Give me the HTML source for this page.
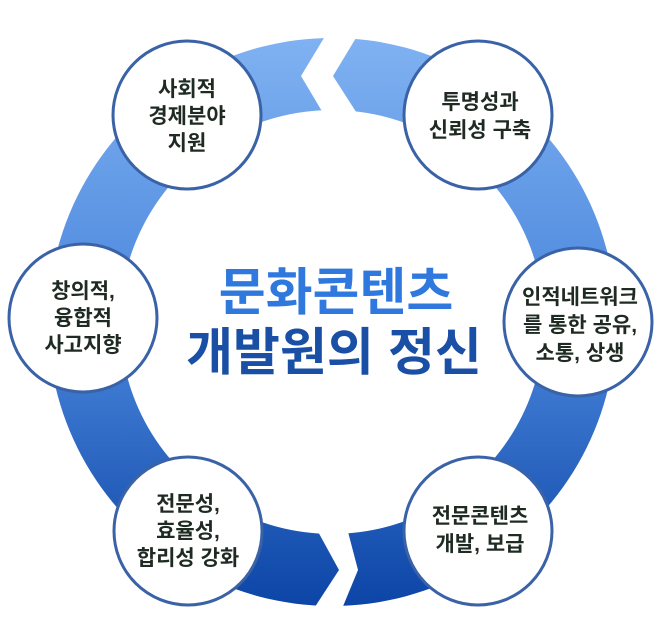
<!DOCTYPE html>
<html><head><meta charset="utf-8"><style>
html,body{margin:0;padding:0;background:#fff;width:660px;height:640px;overflow:hidden}
svg{display:block}
.n{font-family:"Liberation Sans","Noto Sans CJK KR",sans-serif;font-weight:bold;font-size:21px;fill:#1e2a22;text-anchor:middle}
.t{font-family:"Liberation Sans","Noto Sans CJK KR",sans-serif;font-weight:bold;font-size:51px;text-anchor:middle}
</style></head><body>
<svg width="660" height="640" viewBox="0 0 660 640" xmlns="http://www.w3.org/2000/svg">
<defs>
<linearGradient id="g" x1="0" y1="0" x2="0" y2="1">
<stop offset="0" stop-color="#80b2f2"/>
<stop offset="0.5" stop-color="#4a86dc"/>
<stop offset="1" stop-color="#0c45a6"/>
</linearGradient>
</defs>
<path fill="url(#g)" fill-rule="evenodd" d="M332,38 a284,284 0 1,0 0.01,0 Z M332,110 a212,212 0 1,1 -0.01,0 Z"/>
<polygon fill="#fff" points="330,28 301,76 326,118 360,118 333,76 362,28"/>
<polygon fill="#fff" points="316,528 339,570 309,616 339,616 358,570 347,528"/>
<g fill="#fff" stroke="#3a62a6" stroke-width="3">
<circle cx="187" cy="115" r="74"/>
<circle cx="478" cy="115" r="74"/>
<circle cx="83" cy="318" r="74"/>
<circle cx="578" cy="322" r="74"/>
<circle cx="188" cy="531" r="74"/>
<circle cx="478" cy="531" r="74"/>
</g>
<text class="n" x="187" y="96">사회적</text>
<text class="n" x="187" y="123">경제분야</text>
<text class="n" x="187" y="150">지원</text>
<text class="n" x="480" y="109">투명성과</text>
<text class="n" x="480" y="137">신뢰성 구축</text>
<text class="n" x="83" y="298">창의적,</text>
<text class="n" x="83" y="325">융합적</text>
<text class="n" x="83" y="352">사고지향</text>
<text class="n" x="580" y="304">인적네트워크</text>
<text class="n" x="580" y="332">를 통한 공유,</text>
<text class="n" x="580" y="360">소통, 상생</text>
<text class="n" x="188" y="511">전문성,</text>
<text class="n" x="188" y="538">효율성,</text>
<text class="n" x="188" y="565">합리성 강화</text>
<text class="n" x="480" y="523">전문콘텐츠</text>
<text class="n" x="480" y="551">개발, 보급</text>
<text class="t" x="336" y="310" fill="#2f78de">문화콘텐츠</text>
<text class="t" x="334" y="370" fill="#1a4fa6">개발원의 정신</text>
</svg>
</body></html>
